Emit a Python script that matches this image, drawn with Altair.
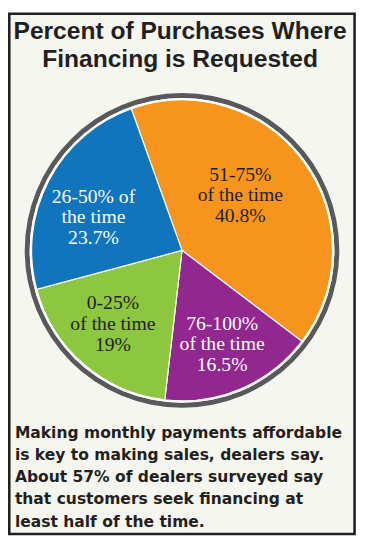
import altair as alt
import pandas as pd
import math

categories = ["51-75%", "76-100%", "0-25%", "26-50%"]
values = [40.8, 16.5, 19.0, 23.7]
labels = [
    "51-75%\nof the time\n40.8%",
    "76-100%\nof the time\n16.5%",
    "0-25%\nof the time\n19%",
    "26-50% of\nthe time\n23.7%",
]
colors = ["#F7941D", "#92278F", "#8DC63F", "#1075BC"]
label_colors = ["#231F20", "#FFFFFF", "#231F20", "#FFFFFF"]

title_lines = ["Percent of Purchases Where", "Financing is Requested"]
note_lines = [
    "Making monthly payments affordable",
    "is key to making sales, dealers say.",
    "About 57% of dealers surveyed say",
    "that customers seek financing at",
    "least half of the time.",
]

df = pd.DataFrame({"cat": categories, "value": values, "label": labels,
                   "idx": list(range(len(categories)))})

W, H = 356, 532
CX, CY = 177, 242
start = math.radians(-19.7)
theta_scale = alt.Scale(domain=[0, 100], range=[start, start + 2 * math.pi])

one = alt.Chart(pd.DataFrame({"a": [0]}))

frame = one.mark_rect(fill="#F6F6F0", stroke="#231F20", strokeWidth=2.6).encode(
    x=alt.value(1.3), x2=alt.value(352.5), y=alt.value(1.3), y2=alt.value(530.5)
)

ring = one.mark_arc(theta=0, theta2=2 * math.pi, outerRadius=160, innerRadius=155,
                    color="#58595B").encode(x=alt.value(CX), y=alt.value(CY))
disk = one.mark_arc(theta=0, theta2=2 * math.pi, outerRadius=155,
                    color="#FFFFFF").encode(x=alt.value(CX), y=alt.value(CY))

base = alt.Chart(df).transform_window(
    cum="sum(value)", sort=[alt.SortField("idx")], frame=[None, 0]
).transform_calculate(
    start="datum.cum - datum.value", mid="datum.cum - datum.value / 2"
)

arcs = base.mark_arc(outerRadius=153, stroke="#FFFFFF", strokeWidth=1.2).encode(
    theta=alt.Theta("start:Q", scale=theta_scale),
    theta2="cum:Q",
    color=alt.Color("cat:N", scale=alt.Scale(domain=categories, range=colors), legend=None),
    x=alt.value(CX), y=alt.value(CY),
)

LH = 21
label_place = {
    "51-75%": dict(radius=81, dx=-6, dy=-8 - LH),
    "76-100%": dict(radius=104, dx=0, dy=0 - LH),
    "0-25%": dict(radius=103, dx=-3, dy=-3 - LH),
    "26-50%": dict(radius=96, dx=-5, dy=11 - LH),
}

text_layers = []
for c, lc in zip(categories, label_colors):
    p = label_place[c]
    text_layers.append(
        base.transform_filter(alt.datum.cat == c).mark_text(
            font="Liberation Serif", fontSize=20, lineBreak="\n", lineHeight=LH,
            align="center", baseline="middle", color=lc,
            radius=p["radius"], dx=p["dx"], dy=p["dy"],
        ).encode(
            theta=alt.Theta("mid:Q", scale=theta_scale),
            text="label:N",
            x=alt.value(CX), y=alt.value(CY),
        )
    )

title = one.mark_text(
    font="Liberation Sans", fontWeight="bold", fontSize=25, color="#231F20",
    align="center", baseline="alphabetic", lineBreak="\n", lineHeight=28,
    text="\n".join(title_lines),
).encode(x=alt.value(175), y=alt.value(27))

note = one.mark_text(
    font="DejaVu Sans", fontWeight="bold", fontSize=15.8, color="#231F20",
    align="left", baseline="alphabetic", lineBreak="\n", lineHeight=22.6,
    text="\n".join(note_lines),
).encode(x=alt.value(7), y=alt.value(432.5))

chart = alt.layer(frame, ring, disk, arcs, *text_layers, title, note).properties(
    width=W, height=H, padding=0, autosize="none", background="#FFFFFF"
).configure_view(stroke=None)

chart.save("out.html", embed_options={"renderer": "svg", "actions": False})
